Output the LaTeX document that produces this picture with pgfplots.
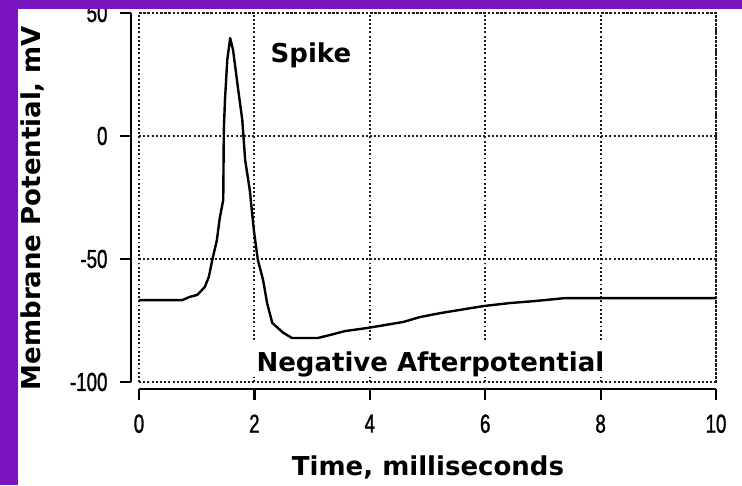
\documentclass[border=0pt]{standalone}
\usepackage{pgfplots}
\pgfplotsset{compat=1.18}
\usepackage{fontspec}
\setmainfont{DejaVu Sans}
\newfontfamily\tickfont[FakeStretch=0.72, FakeBold=1.2]{Liberation Sans}
\definecolor{bgpurple}{RGB}{121,20,190}
\definecolor{griddot}{RGB}{30,30,30}

\begin{document}
\begin{tikzpicture}
\path[use as bounding box] (0,0) rectangle (742pt,485pt);
\fill[white] (0,0) rectangle (742pt,485pt);

\begin{axis}[
    at={(139pt,103pt)}, anchor=south west,
    scale only axis,
    width=577pt, height=369pt,
    xmin=0, xmax=10, ymin=-100, ymax=50,
    enlargelimits=false,
    axis x line*=bottom, axis y line*=left,
    axis x line shift=7pt, axis y line shift=8pt,
    axis line style={-, line width=2.2pt, black},
    xtick={0,2,4,6,8,10}, xticklabels={0,2,4,6,8,10},
    ytick={-100,-50,0,50}, yticklabels={-100,-50,0,50},
    tick align=outside, tick pos=left,
    major tick length=11pt,
    tick style={line width=2.2pt, black},
    tick label style={font=\tickfont\fontsize{26}{28}\selectfont},
    yticklabel style={anchor=east, xshift=-9pt},
    xticklabel style={anchor=north, yshift=-11pt},
    grid=major,
    grid style={griddot, line width=1.9pt, dash pattern=on 1.9pt off 2.3pt},
    clip=false,
]
\draw[griddot, line width=1.9pt, dash pattern=on 1.9pt off 2.3pt]
    (rel axis cs:0,0) rectangle (rel axis cs:1,1);
\addplot[black, line width=2.4pt, line join=round] coordinates {
    (0,-66.7) (0.75,-66.7) (0.88,-65.4) (1.01,-64.6) (1.14,-61.4)
    (1.21,-57.3) (1.27,-50.4) (1.35,-42.3) (1.40,-33.3) (1.46,-26)
    (1.47,2.4) (1.49,14.6) (1.53,31) (1.58,39.8)
    (1.63,35) (1.72,18.7) (1.79,6.5) (1.84,-9.8) (1.92,-22)
    (1.99,-38.2) (2.06,-50.4) (2.15,-58.5) (2.22,-67.9) (2.31,-76)
    (2.50,-80) (2.65,-82.1) (3.10,-82.1) (3.31,-80.9) (3.57,-79.3)
    (3.97,-78) (4.58,-75.6) (4.87,-73.6) (5.22,-72) (5.56,-70.7)
    (5.98,-69.1) (6.43,-67.9) (6.86,-67.1) (7.38,-65.9) (10,-65.9)
};
\node[anchor=base, font=\bfseries\fontsize{26}{28}\selectfont]
    at (axis cs:2.98,29.7) {Spike};
\node[anchor=base, fill=white, inner xsep=6pt, inner ysep=0pt,
      text height=31pt, text depth=5pt,
      font=\bfseries\fontsize{26}{28}\selectfont]
    at (axis cs:5.05,-95.9) {Negative Afterpotential};
\end{axis}

\node[anchor=base, font=\bfseries\fontsize{26}{28}\selectfont]
    at (428pt,10pt) {Time, milliseconds};
\node[rotate=90, anchor=base, font=\bfseries\fontsize{26}{28}\selectfont]
    at (40pt,277pt) {Membrane Potential, mV};

\fill[bgpurple] (0,0) rectangle (18pt,485pt);
\fill[bgpurple] (0,476pt) rectangle (742pt,485pt);
\end{tikzpicture}
\end{document}
